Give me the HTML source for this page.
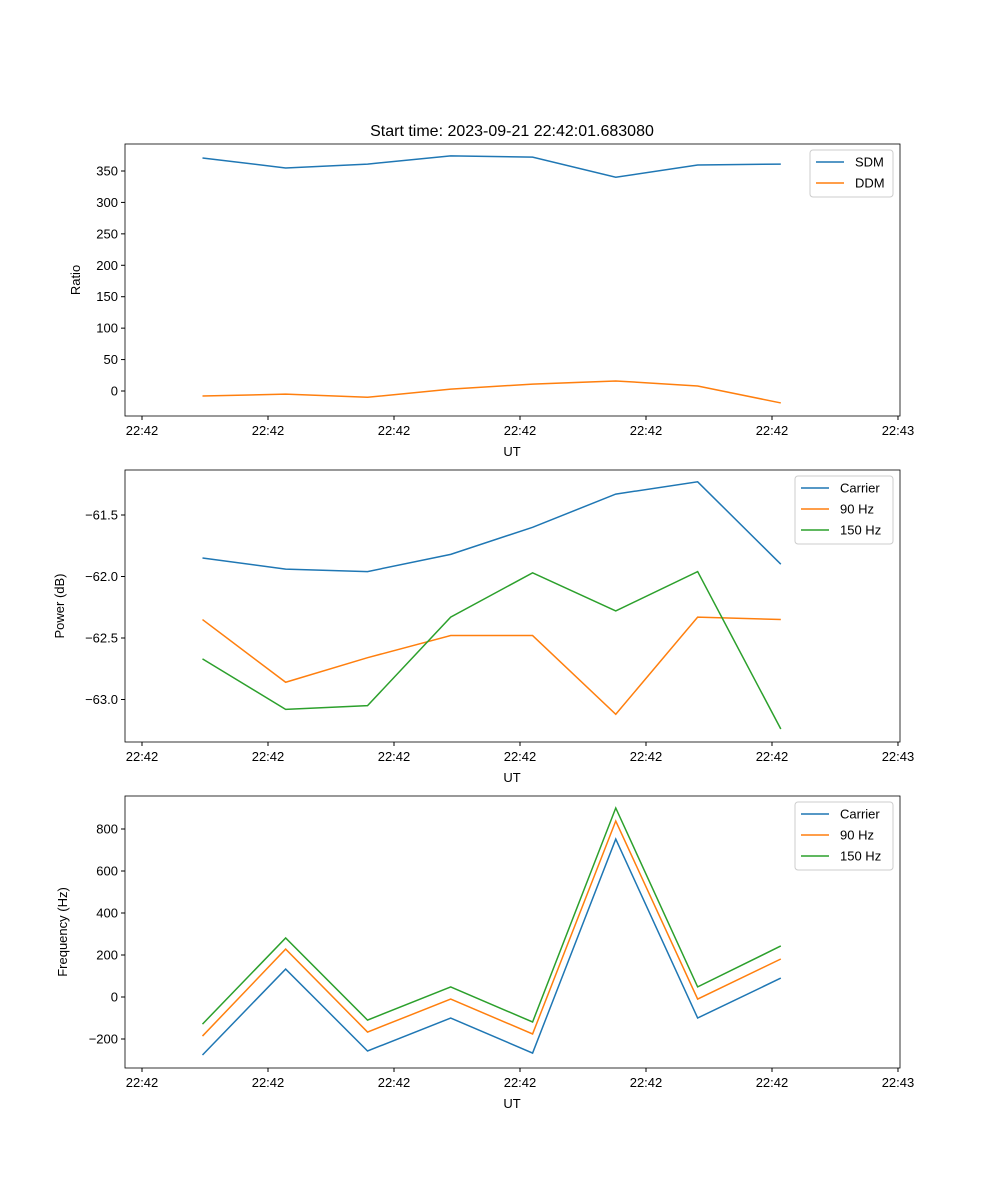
<!DOCTYPE html>
<html><head><meta charset="utf-8"><style>
body{margin:0;background:#fff}
svg{display:block;font-family:"Liberation Sans","DejaVu Sans",sans-serif}
</style></head><body>
<svg id="fig" width="1000" height="1200" xmlns="http://www.w3.org/2000/svg">
<rect width="1000" height="1200" fill="#fff"/>
<text x="512" y="136" font-size="16" text-anchor="middle">Start time: 2023-09-21 22:42:01.683080</text>
</svg>
<script>
const times=[4.8,11.4,17.9,24.5,31.0,37.6,44.1,50.7];
const xTickVals=[0,10,20,30,40,50,60];
const xTickLabels=["22:42","22:42","22:42","22:42","22:42","22:42","22:43"];
const sdm=[370.7,354.8,361,374,372,340,359.5,361];
const ddm=[-8,-5,-10,3,11,16,8,-19];
const pCarrier=[-61.85,-61.94,-61.96,-61.82,-61.60,-61.33,-61.23,-61.90];
const p90=[-62.35,-62.86,-62.66,-62.48,-62.48,-63.12,-62.33,-62.35];
const p150=[-62.67,-63.08,-63.05,-62.33,-61.97,-62.28,-61.96,-63.24];
const fCarrier=[-276,133,-257,-100,-267,752,-100,90];
const f90=[-186,228,-167,-10,-176,838,-10,181];
const f150=[-129,281,-110,48,-119,900,48,243];
const ratioTicks=[0,50,100,150,200,250,300,350];
const powerTicks=[-63.0,-62.5,-62.0,-61.5];
const powerTickLabels=["\u221263.0","\u221262.5","\u221262.0","\u221261.5"];
const freqTicks=[-200,0,200,400,600,800];
const freqTickLabels=["\u2212200","0","200","400","600","800"];
const C=["#1f77b4","#ff7f0e","#2ca02c"];
const svg=document.getElementById('fig');const NS="http://www.w3.org/2000/svg";
function el(t,a,p){const e=document.createElementNS(NS,t);for(const k in a)e.setAttribute(k,a[k]);(p||svg).appendChild(e);return e;}
const L=125,R=900;
function xs(t){return L+(t+1.35)/(61.51)*(R-L);}
function panel(name,top,bottom,ySc,yt,ytl,ylabel,series,legend){
 const g=el('g',{});
 
 
 series.forEach((s,i)=>{
  const p=el('polyline',{points:s.v.map((v,j)=>xs(times[j])+','+ySc(v)).join(' '),fill:'none',stroke:s.c,'stroke-width':1.5},g);
  
  
 });
 el('rect',{x:L,y:top,width:R-L,height:bottom-top,fill:'none',stroke:'#000','stroke-width':0.8},g);
 xTickVals.forEach((t,i)=>{const x=xs(t);el('line',{x1:x,x2:x,y1:bottom,y2:bottom+4,stroke:'#000'},g);
  const tx=el('text',{x:x,y:bottom+19,'font-size':13,'text-anchor':'middle'},g);tx.textContent=xTickLabels[i];
  
  });
 yt.forEach((v,i)=>{const y=ySc(v);el('line',{x1:L-4,x2:L,y1:y,y2:y,stroke:'#000'},g);
  const tx=el('text',{x:L-7,y:y+4.5,'font-size':13,'text-anchor':'end'},g);tx.textContent=ytl[i];
  
  });
 const xl=el('text',{x:512,y:bottom+40,'font-size':13,'text-anchor':'middle'},g);xl.textContent='UT';
 
 
 const yl=el('text',{x:0,y:0,'font-size':13,'text-anchor':'middle',transform:`translate(${legend.yx},${(top+bottom)/2}) rotate(-90)`},g);yl.textContent=ylabel;
 
 
 const lg=el('g',{},g);
 
 
 el('rect',{x:legend.x,y:top+6,width:893-legend.x,height:series.length*21+5,rx:3,fill:'#fff',stroke:'#ccc'},lg);
 series.forEach((s,i)=>{const y=top+18+i*21;
  el('line',{x1:legend.x+6,x2:legend.x+34,y1:y,y2:y,stroke:s.c,'stroke-width':1.5},lg);
  const t=el('text',{x:legend.x+45,y:y+4.5,'font-size':13},lg);t.textContent=s.n;
  
  });
}
panel('ratio-panel',144,416,v=>391-v*0.6286,ratioTicks,ratioTicks.map(String),'Ratio',
 [{v:sdm,c:C[0],n:'SDM'},{v:ddm,c:C[1],n:'DDM'}],{x:810,yx:80});
panel('power-panel',470,742,v=>515+(-61.5-v)*123,powerTicks,powerTickLabels,'Power (dB)',
 [{v:pCarrier,c:C[0],n:'Carrier'},{v:p90,c:C[1],n:'90 Hz'},{v:p150,c:C[2],n:'150 Hz'}],{x:795,yx:64});
panel('frequency-panel',796,1068,v=>997-v*0.21,freqTicks,freqTickLabels,'Frequency (Hz)',
 [{v:fCarrier,c:C[0],n:'Carrier'},{v:f90,c:C[1],n:'90 Hz'},{v:f150,c:C[2],n:'150 Hz'}],{x:795,yx:67});
</script>
</body></html>
